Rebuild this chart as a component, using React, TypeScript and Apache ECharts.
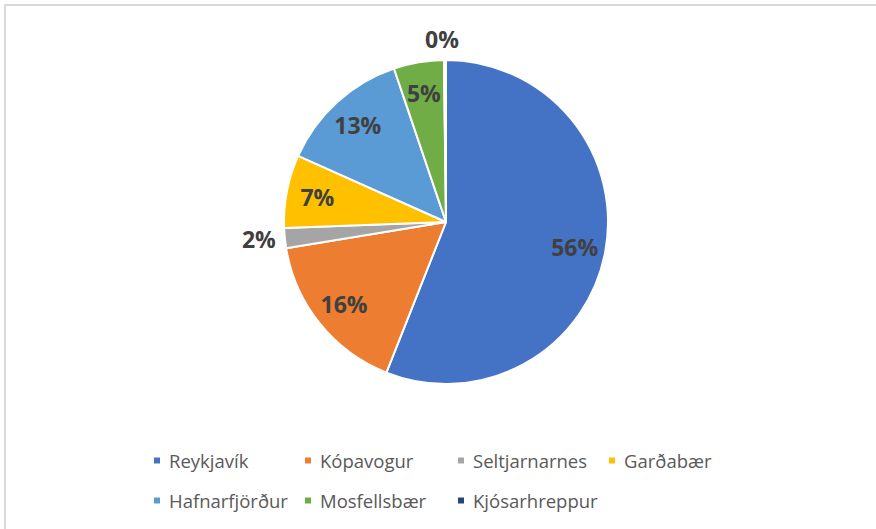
import React, { useEffect, useRef } from "react";
import * as echarts from "echarts";

const categories = [
  "Reykjavík",
  "Kópavogur",
  "Seltjarnarnes",
  "Garðabær",
  "Hafnarfjörður",
  "Mosfellsbær",
  "Kjósarhreppur",
];
const values = [56.0, 16.4, 2.0, 7.3, 13.1, 5.0, 0.2];
const colors = ["#4472C4", "#ED7D31", "#A5A5A5", "#FFC000", "#5B9BD5", "#70AD47", "#264478"];
const outsideLabels = ["Seltjarnarnes", "Kjósarhreppur"];
const legendColumns = [
  ["Reykjavík", "Hafnarfjörður"],
  ["Kópavogur", "Mosfellsbær"],
  ["Seltjarnarnes", "Kjósarhreppur"],
  ["Garðabær"],
];
const legendLefts = [152, 303, 456, 607];

export default function App() {
  const ref = useRef<HTMLDivElement>(null);
  useEffect(() => {
    if (!ref.current) return;
    const chart = echarts.init(ref.current, null, { renderer: "svg" });
    const total = values.reduce((a, b) => a + b, 0);
    const fmt = (p: any) => Math.round((p.value / total) * 100) + "%";
    const labelFont = {
      fontFamily: "Open Sans",
      fontWeight: "bold" as const,
      fontSize: 23,
      color: "#404040",
    };
    const outerCfg: Record<string, any> = {
      Seltjarnarnes: { len: 4, dist: 5 },
      Kjósarhreppur: { len: 21, dist: -14 },
    };
    const mainData = categories.map((name, i) => {
      const isOut = outsideLabels.includes(name);
      const cfg = outerCfg[name];
      return {
        name,
        value: values[i],
        itemStyle: { color: colors[i] },
        label: isOut
          ? { show: true, distanceToLabelLine: cfg.dist }
          : { show: false },
        labelLine: isOut
          ? { show: false, length: cfg.len, length2: 0 }
          : { show: false },
      };
    });
    const overlayData = categories.map((name, i) => ({
      name,
      value: values[i],
      itemStyle: { color: "rgba(0,0,0,0)" },
      label: { show: !outsideLabels.includes(name) },
    }));
    chart.setOption({
      animation: false,
      backgroundColor: "#ffffff",
      graphic: [
        {
          type: "rect",
          z: -1,
          shape: { x: 5, y: 5, width: 900, height: 600 },
          style: { fill: "none", stroke: "#D9D9D9", lineWidth: 2 },
          silent: true,
        },
      ],
      legend: legendColumns.map((col, i) => ({
        orient: "vertical",
        left: legendLefts[i],
        top: 451,
        data: col,
        itemWidth: 8,
        itemHeight: 8,
        itemGap: 21,
        icon: "rect",
        padding: 0,
        selectedMode: false,
        textStyle: {
          fontFamily: "Open Sans",
          fontSize: 18.5,
          color: "#595959",
          padding: [0, 0, 0, 3],
        },
      })),
      series: [
        {
          type: "pie",
          name: "main",
          center: [446, 222],
          radius: [0, 162],
          startAngle: 90,
          clockwise: true,
          avoidLabelOverlap: false,
          itemStyle: { borderColor: "#ffffff", borderWidth: 2 },
          label: {
            show: true,
            position: "outside",
            formatter: fmt,
            ...labelFont,
          },
          labelLine: { show: false },
          emphasis: { disabled: true },
          data: mainData,
        },
        {
          type: "pie",
          name: "labels",
          center: [446, 222],
          radius: [0, 256],
          startAngle: 90,
          clockwise: true,
          silent: true,
          avoidLabelOverlap: false,
          itemStyle: { color: "rgba(0,0,0,0)" },
          label: {
            show: true,
            position: "inside",
            formatter: fmt,
            ...labelFont,
          },
          labelLine: { show: false },
          emphasis: { disabled: true },
          data: overlayData,
        },
      ],
    });
    return () => chart.dispose();
  }, []);
  return (
    <div
      ref={ref}
      style={{ position: "absolute", left: 0, top: 0, width: 876, height: 529 }}
    />
  );
}
